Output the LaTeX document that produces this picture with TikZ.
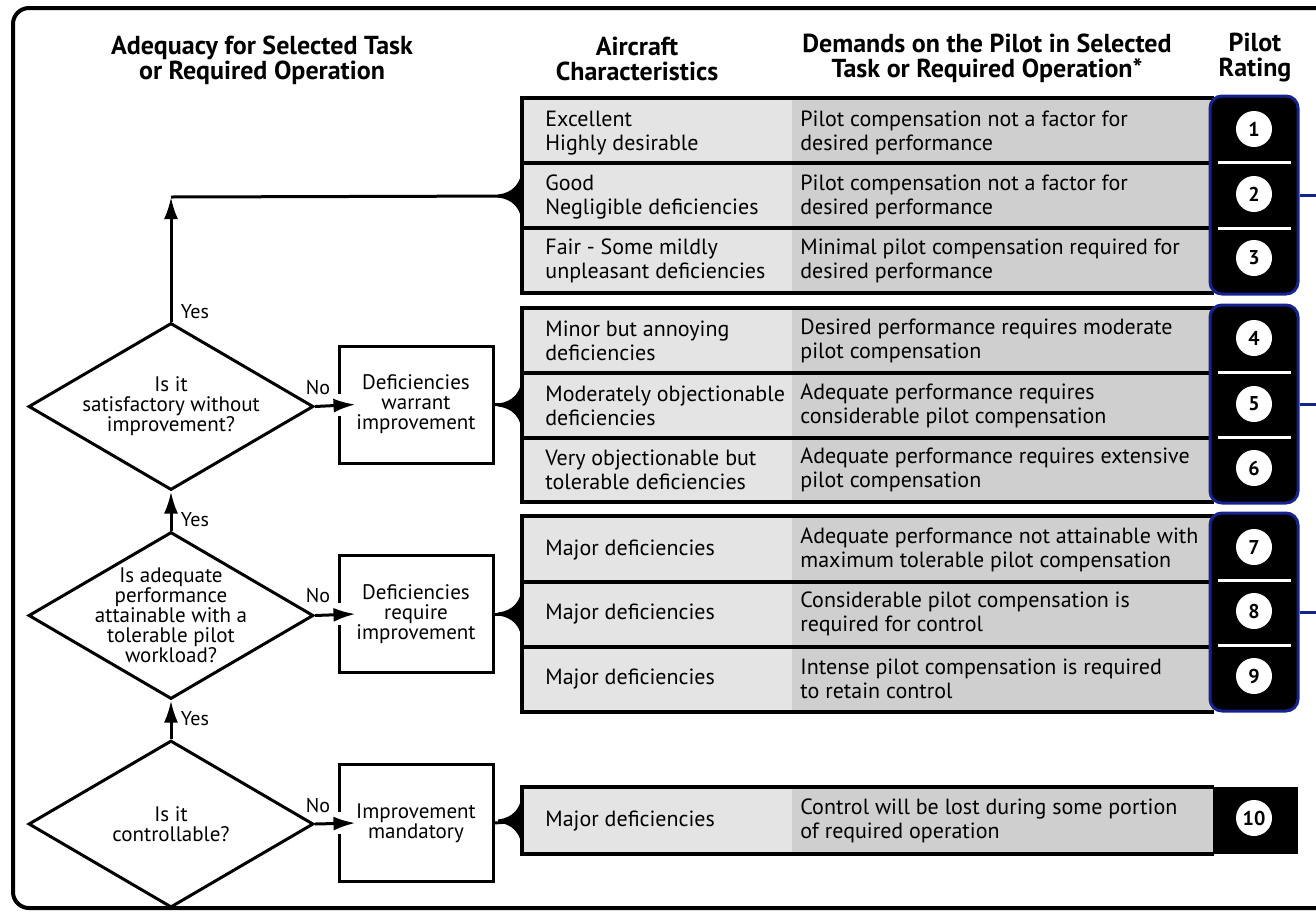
\documentclass[tikz,border=0pt]{standalone}
\usepackage{fontspec}
\setmainfont{PT Sans}
\usetikzlibrary{shapes.geometric,arrows.meta,calc}
\definecolor{cellA}{HTML}{E4E4E4}
\definecolor{cellB}{HTML}{CFCFCF}
\definecolor{rateblue}{HTML}{16238F}
\tikzstyle{arrow} = [line width=1.5pt,-{Latex[length=11pt,width=7pt]}]
\tikzstyle{decision} = [draw,line width=1.5pt,diamond,minimum width=142.5pt,minimum height=83.5pt,inner sep=0pt]
\tikzstyle{qtext} = [align=center,font=\fontsize{10.5}{10}\selectfont]
\tikzstyle{action} = [draw,line width=1.5pt,minimum width=77pt,minimum height=58.5pt,inner sep=0pt,align=center,font=\fontsize{10.5}{10}\selectfont]
\tikzstyle{answer} = [font=\fontsize{10}{10}\selectfont]
\tikzstyle{headtext} = [align=center,font=\bfseries\fontsize{13}{12.5}\selectfont]
\tikzstyle{celltext} = [anchor=west,align=left,inner sep=0pt,font=\fontsize{11}{12}\selectfont]
\tikzstyle{ratebox} = [draw=rateblue,line width=1.5pt,fill=black,rounded corners=6pt,minimum width=44pt,minimum height=99pt,inner sep=0pt]
\tikzstyle{ratenum} = [circle,fill=white,minimum size=18pt,inner sep=0pt,font=\bfseries\fontsize{10}{10}\selectfont]

\begin{document}
\begin{tikzpicture}[x=0.5pt,y=-0.5pt]
\useasboundingbox (0,0) rectangle (1316,911);
\clip (0,0) rectangle (1316,911);
\draw[line width=2pt,rounded corners=8pt] (1340,8) -- (13,8) -- (13,908) -- (1340,908);

\node[headtext] (h1) at (262,60) {Adequacy for Selected Task\\or Required Operation};
\node[headtext] (h2) at (637,59) {Aircraft\\Characteristics};
\node[headtext] (h3) at (987,58) {Demands on the Pilot in Selected\\Task or Required Operation*};
\node[headtext] (h4) at (1255,58) {Pilot\\Rating};

\foreach \t/\b in {98/293,308/502,516/712,787/854}{
	\fill[cellA] (522,\t) rectangle (792,\b);
	\fill[cellB] (792,\t) rectangle (1214,\b);
	\draw[line width=2pt] (1214,\t) -- (522,\t) -- (522,\b) -- (1214,\b);
}
\foreach \y in {163,228,373,438,582,647}{
	\draw[line width=1.75pt] (522,\y) -- (1214,\y);
}

\foreach \n/\y/\a/\b in {
	1/133/{Excellent\\Highly desirable}/{Pilot compensation not a factor for\\desired performance},
	2/197/{Good\\Negligible deficiencies}/{Pilot compensation not a factor for\\desired performance},
	3/261/{Fair - Some mildly\\unpleasant deficiencies}/{Minimal pilot compensation required for\\desired performance},
	4/341/{Minor but annoying\\deficiencies}/{Desired performance requires moderate\\pilot compensation},
	5/406/{Moderately objectionable\\deficiencies}/{Adequate performance requires\\considerable pilot compensation},
	6/470/{Very objectionable but\\tolerable deficiencies}/{Adequate performance requires extensive\\pilot compensation},
	7/550/{Major deficiencies}/{Adequate performance not attainable with\\maximum tolerable pilot compensation},
	8/614/{Major deficiencies}/{Considerable pilot compensation is\\required for control},
	9/679/{Major deficiencies}/{Intense pilot compensation is required\\to retain control},
	10/821/{Major deficiencies}/{Control will be lost during some portion\\of required operation}}{
	\node[celltext] (ac\n) at (545,\y) {\a};
	\node[celltext] (dm\n) at (800,\y) {\b};
}

\node[ratebox] (rb1) at (1254,195) {};
\node[ratebox] (rb2) at (1254,404) {};
\node[ratebox] (rb3) at (1254,612) {};
\node[fill=black,minimum width=42.5pt,minimum height=33.5pt,inner sep=0pt] (rb4) at (1255.5,820.5) {};
\foreach \y in {162,228,372,437,580,645}{
	\draw[white,line width=1.5pt] (1218,\y) -- (1291,\y);
}
\foreach \r in {rb1,rb2,rb3}{
	\draw[rateblue,line width=1.5pt] (\r.east) -- ++(30,0);
}
\foreach \n/\y in {1/129,2/194,3/258,4/338,5/404,6/468,7/547,8/611,9/676,10/818}{
	\node[ratenum] (r\n) at (1254,\y) {\n};
}

\node[decision] (q1) at (171,406.5) {};
\node[qtext] (q1t) at (q1) {Is it\\satisfactory without\\improvement?};
\node[decision] (q2) at (171,615.5) {};
\node[qtext] (q2t) at (q2) {Is adequate\\performance\\attainable with a\\tolerable pilot\\workload?};
\node[decision] (q3) at (171,824) {};
\node[qtext] (q3t) at (q3) {Is it\\controllable?};

\node[action] (b1) at (416,404.5) {Deficiencies\\warrant\\improvement};
\node[action] (b2) at (416,614) {Deficiencies\\require\\improvement};
\node[action] (b3) at (416,823) {Improvement\\mandatory};

\coordinate (g1) at (522,196);
\coordinate (g2) at (522,405);
\coordinate (g3) at (522,614);
\coordinate (g4) at (522,821);
\coordinate (top) at (171,197);

\draw[arrow] (q3.north) -- (q2.south);
\draw[arrow] (q2.north) -- (q1.south);
\draw[arrow] (q1.north) -- (top);
\draw[line width=1.5pt] (top) -- (g1);
\foreach \q/\b/\g in {q1/b1/g2,q2/b2/g3,q3/b3/g4}{
	\fill[white] ($(\b.west)+(-3,-11)$) rectangle ($(\b.west)+(3,11)$);
	\draw[arrow] (\q.east) -- ($(\b.west)+(18,0)$);
	\draw[line width=1.5pt] (\b.east) -- (\g);
}
\foreach \g in {g1,g2,g3,g4}{
	\fill ($(\g)+(0,-30)$) .. controls ($(\g)+(0,-12)$) and ($(\g)+(-10,-3)$) .. ($(\g)+(-24,-1.5)$) -- ($(\g)+(-24,1.5)$) .. controls ($(\g)+(-10,3)$) and ($(\g)+(0,12)$) .. ($(\g)+(0,30)$) -- cycle;
}

\node[answer] (y1) at (195,312) {Yes};
\node[answer] (y2) at (195,520) {Yes};
\node[answer] (y3) at (195,719) {Yes};
\node[answer] (n1) at (318,387) {No};
\node[answer] (n2) at (318,595) {No};
\node[answer] (n3) at (318,805) {No};
\end{tikzpicture}
\end{document}
